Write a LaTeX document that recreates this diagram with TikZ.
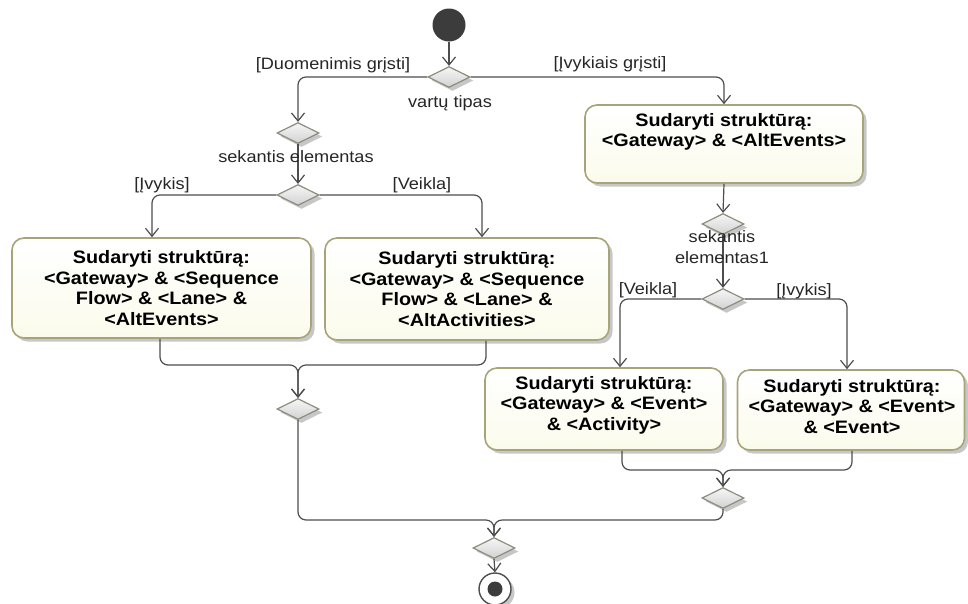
\documentclass[tikz,border=0pt]{standalone}
\usepackage{fontspec}
\setmainfont[FakeStretch=1.1]{Liberation Sans}
\usetikzlibrary{arrows.meta,shapes.geometric,shadows,calc}

\definecolor{flowline}{HTML}{4D4D4D}
\definecolor{boxborder}{HTML}{A8A47A}
\definecolor{boxbottom}{HTML}{FBFBEC}
\definecolor{gateborder}{HTML}{8C8C7E}
\definecolor{gatetop}{HTML}{F6F6F6}
\definecolor{gatebottom}{HTML}{D2D2D2}
\definecolor{nodedark}{HTML}{3C3C3C}

\tikzset{
  flow/.style={draw=flowline, line width=1.2pt, rounded corners=8pt,
    -{Straight Barb[length=8pt,width=13pt,line width=1.2pt]}},
  softshadow/.style={drop shadow={shadow xshift=3.5pt, shadow yshift=-3.5pt,
    fill=black!40, opacity=0.55}},
  action/.style={rectangle, rounded corners=12pt, draw=boxborder, line width=1.6pt,
    top color=white, bottom color=boxbottom, softshadow, inner sep=0pt,
    font=\fontsize{18}{20.5}\selectfont\bfseries, align=center},
  acttext/.style={font=\fontsize{18}{20.5}\selectfont\bfseries, align=center, inner sep=0pt},
  gate/.style={diamond, minimum width=42pt, minimum height=21pt, inner sep=0pt,
    draw=gateborder, line width=1.2pt, top color=gatetop, bottom color=gatebottom,
    softshadow},
  guard/.style={font=\fontsize{16.5}{21}\selectfont, inner sep=0pt, align=center,
    text=black!85},
}

\begin{document}
\begin{tikzpicture}[x=1pt, y=-1pt]
\useasboundingbox (0,0) rectangle (968,603);

% initial and final nodes
\node[circle, fill=nodedark, minimum size=33pt, inner sep=0pt] (start) at (449,25) {};
\node[circle, draw=flowline, line width=1.4pt, fill=white, minimum size=32pt,
      inner sep=0pt, softshadow] (final) at (495,589) {};
\node[circle, fill=nodedark, minimum size=15pt, inner sep=0pt] (finaldot) at (final) {};

% decision and merge nodes
\node[gate] (d1) at (449,77) {};
\node[gate] (d2) at (298,133) {};
\node[gate] (d3) at (298,195) {};
\node[gate] (d4) at (298,409) {};
\node[gate] (d5) at (494,548) {};
\node[gate] (d6) at (723,224) {};
\node[gate] (d7) at (723,299) {};
\node[gate] (d8) at (723,498) {};

% actions
\node[action, minimum width=299pt, minimum height=100pt] (boxA) at (161.5,288)
  {Sudaryti struktūrą:\\ <Gateway> \& <Sequence\\ Flow> \& <Lane> \&\\ <AltEvents>};
\node[action, minimum width=284pt, minimum height=102pt] (boxB) at (467,289)
  {Sudaryti struktūrą:\\ <Gateway> \& <Sequence\\ Flow> \& <Lane> \&\\ <AltActivities>};
\node[action, minimum width=278pt, minimum height=78pt] (boxC) at (724,144) {};
\node[acttext, anchor=north] (boxCtext) at (724,113)
  {Sudaryti struktūrą:\\ <Gateway> \& <AltEvents>};
\node[action, minimum width=238pt, minimum height=82pt] (boxD) at (604,409) {};
\node[acttext] (boxDtext) at (604,405)
  {Sudaryti struktūrą:\\ <Gateway> \& <Event>\\ \& <Activity>};
\node[action, minimum width=227pt, minimum height=80pt] (boxE) at (851,410) {};
\node[acttext] (boxEtext) at (852,406.5)
  {Sudaryti struktūrą:\\ <Gateway> \& <Event>\\ \& <Event>};

% junction points of the merges
\coordinate (mA) at (298,365);
\coordinate (mD) at (723,470);
\coordinate (mF) at (494,520);

% flows
\draw[flow] (start) -- (d1);
\draw[flow] (d1.west) -| (d2.north);
\draw[flow] (d1.east) -| (boxC.north);
\draw[flow] (d2.south) -- (d3.north);
\draw[flow] (d3.west) -| ([xshift=-9.5pt]boxA.north);
\draw[flow] (d3.east) -| ([xshift=15pt]boxB.north);
\draw[flow] ([xshift=-1.5pt]boxA.south) |- (mA) -- (d4.north);
\draw[flow] ([xshift=19pt]boxB.south) |- (mA) -- (d4.north);
\draw[flow] (boxC.south) -- (d6.north);
\draw[flow] (d6.south) -- (d7.north);
\draw[flow] (d7.west) -| ([xshift=16pt]boxD.north);
\draw[flow] (d7.east) -| ([xshift=-4pt]boxE.north);
\draw[flow] ([xshift=18pt]boxD.south) |- (mD) -- (d8.north);
\draw[flow] ([xshift=1pt]boxE.south) |- (mD) -- (d8.north);
\draw[flow] (d4.south) |- (mF) -- (d5.north);
\draw[flow] (d8.south) |- (mF) -- (d5.north);
\draw[flow] (d5.south) -- (final.north);

% guards and decision names
\node[guard] (gDuom) at (333,65) {[Duomenimis grįsti]};
\node[guard] (gIvyk) at (610,64) {[Įvykiais grįsti]};
\node[guard] (nVartu) at (450,103) {vartų tipas};
\node[guard] (nSek) at (296,157) {sekantis elementas};
\node[guard] (gIvykisL) at (162,185) {[Įvykis]};
\node[guard] (gVeiklaL) at (422,185) {[Veikla]};
\node[guard] (nSek1) at (722,247) {sekantis\\elementas1};
\node[guard] (gVeiklaR) at (648,290) {[Veikla]};
\node[guard] (gIvykisR) at (804,291) {[Įvykis]};
\end{tikzpicture}
\end{document}
